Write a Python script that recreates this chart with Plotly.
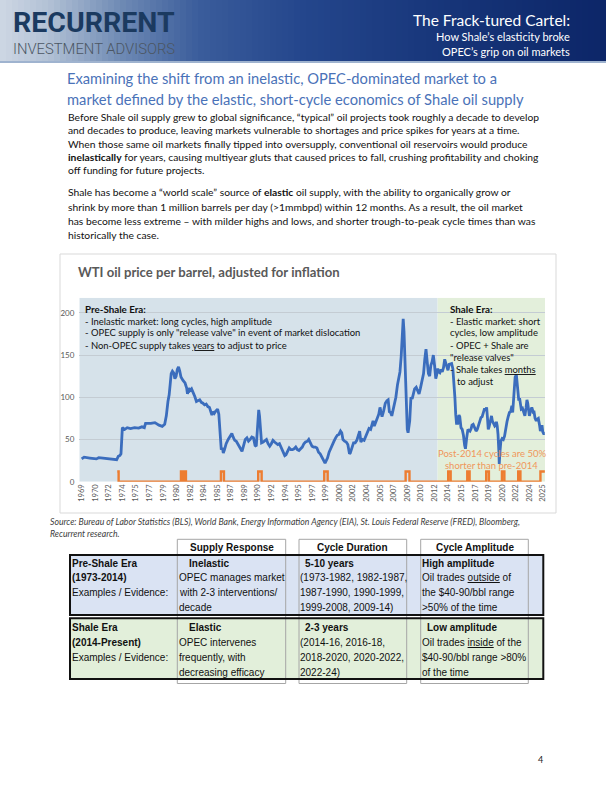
import plotly.graph_objects as go

W, H = 606, 789

# ---------------- DATA ----------------
price_years = [
    1969.0, 1969.3, 1970.0, 1970.8, 1971.1, 1971.5, 1972.5, 1973.3, 1973.5, 1973.7,
    1973.83, 1973.92, 1974.0, 1974.3, 1974.6, 1975.0, 1975.5, 1976.0, 1976.4, 1976.7,
    1976.85, 1977.5, 1978.0, 1978.5, 1978.9, 1979.2, 1979.4, 1979.6, 1979.75, 1979.9,
    1980.0, 1980.15, 1980.3, 1980.45, 1980.6, 1980.75, 1980.9, 1981.05, 1981.2, 1981.45,
    1981.7, 1981.9, 1982.0, 1982.15, 1982.3, 1982.5, 1982.7, 1982.9, 1983.1, 1983.3,
    1983.5, 1983.7, 1983.9, 1984.1, 1984.3, 1984.5, 1984.7, 1984.9, 1985.0, 1985.15,
    1985.3, 1985.5, 1985.7, 1985.85, 1985.95, 1986.05, 1986.15, 1986.3, 1986.4, 1986.55,
    1986.75, 1987.0, 1987.3, 1987.45, 1987.6, 1987.8, 1988.0, 1988.2, 1988.5, 1988.7,
    1988.9, 1989.1, 1989.3, 1989.5, 1989.7, 1989.9, 1990.1, 1990.3, 1990.45, 1990.6,
    1990.75, 1990.85, 1991.0, 1991.1, 1991.3, 1991.5, 1991.7, 1991.9, 1992.1, 1992.3,
    1992.5, 1992.7, 1992.9, 1993.1, 1993.3, 1993.5, 1993.7, 1993.95, 1994.1, 1994.3,
    1994.5, 1994.7, 1994.9, 1995.1, 1995.3, 1995.5, 1995.7, 1995.9, 1996.1, 1996.3,
    1996.5, 1996.75, 1996.9, 1997.1, 1997.3, 1997.5, 1997.7, 1997.9, 1998.1, 1998.3,
    1998.5, 1998.7, 1998.9, 1999.0, 1999.2, 1999.4, 1999.6, 1999.8, 2000.0, 2000.2,
    2000.4, 2000.6, 2000.8, 2000.95, 2001.1, 2001.3, 2001.5, 2001.7, 2001.9, 2002.0,
    2002.2, 2002.4, 2002.6, 2002.8, 2003.0, 2003.15, 2003.3, 2003.5, 2003.7, 2003.9,
    2004.1, 2004.3, 2004.5, 2004.7, 2004.8, 2004.95, 2005.1, 2005.3, 2005.5, 2005.65,
    2005.8, 2005.9, 2006.1, 2006.3, 2006.5, 2006.65, 2006.8, 2006.95, 2007.1, 2007.25,
    2007.45, 2007.6, 2007.8, 2007.95, 2008.1, 2008.25, 2008.4, 2008.5, 2008.6, 2008.7,
    2008.8, 2008.9, 2009.0, 2009.1, 2009.3, 2009.45, 2009.6, 2009.75, 2009.9, 2010.1,
    2010.3, 2010.45, 2010.6, 2010.8, 2011.0, 2011.15, 2011.3, 2011.45, 2011.6, 2011.75,
    2011.9, 2012.05, 2012.2, 2012.35, 2012.5, 2012.6, 2012.75, 2012.85, 2013.0, 2013.15,
    2013.3, 2013.45, 2013.6, 2013.75, 2013.9, 2014.0, 2014.15, 2014.3, 2014.45, 2014.6,
    2014.75, 2014.85, 2014.95, 2015.05, 2015.2, 2015.35, 2015.45, 2015.6, 2015.75, 2015.9,
    2016.05, 2016.15, 2016.3, 2016.45, 2016.55, 2016.7, 2016.85, 2016.95, 2017.1, 2017.3,
    2017.45, 2017.6, 2017.75, 2017.9, 2018.05, 2018.2, 2018.35, 2018.5, 2018.6, 2018.75,
    2018.85, 2018.95, 2019.05, 2019.2, 2019.35, 2019.45, 2019.6, 2019.75, 2019.85, 2019.95,
    2020.05, 2020.15, 2020.25, 2020.3, 2020.4, 2020.5, 2020.65, 2020.8, 2020.95, 2021.1,
    2021.25, 2021.4, 2021.55, 2021.7, 2021.85, 2021.95, 2022.05, 2022.15, 2022.25, 2022.4,
    2022.5, 2022.6, 2022.7, 2022.8, 2022.9, 2023.0, 2023.15, 2023.3, 2023.45, 2023.6,
    2023.7, 2023.8, 2023.9, 2024.0, 2024.15, 2024.3, 2024.45, 2024.55, 2024.7, 2024.85,
    2024.95, 2025.1, 2025.25, 2025.35, 2025.45, 2025.55, 2025.65, 2025.75, 2025.9,
]
price_values = [
    27, 29, 28, 27, 28.5, 28, 27, 26, 30, 31,
    33, 60, 64, 62, 64, 63, 64, 63.5, 65, 64,
    69, 69, 70, 67, 65.5, 68, 78, 95, 103, 118,
    128, 131, 129, 122, 125, 133, 136, 131, 124, 120,
    117, 111, 104, 111, 108, 110, 106, 101, 95, 96,
    97, 94, 93, 91, 92, 89, 88, 82, 79, 83,
    81, 84, 86, 80, 62, 43, 38, 40, 34, 38,
    45, 50, 54, 57, 53, 49, 48, 45, 40, 36,
    43, 50, 52, 48, 50, 53, 52, 43, 42, 62,
    85, 78, 58, 46, 47, 48, 50, 45, 42, 45,
    49, 47, 45, 44, 45, 41, 37, 31, 32, 36,
    40, 38, 38, 39, 41, 38, 37, 39, 41, 45,
    47, 48, 50, 46, 42, 41, 41, 40, 35, 33,
    29, 27, 22, 24, 28, 35, 40, 45, 48, 52,
    55, 56, 60, 58, 50, 48, 47, 44, 33, 34,
    40, 46, 46, 49, 55, 60, 47, 50, 49, 54,
    57, 63, 62, 68, 72, 66, 70, 76, 80, 88,
    83, 77, 84, 93, 96, 97, 83, 82, 78, 85,
    92, 100, 115, 125, 130, 148, 175, 193, 178, 146,
    112, 78, 62, 58, 72, 100, 98, 104, 110, 112,
    108, 104, 110, 118, 128, 145, 157, 142, 128, 125,
    138, 142, 150, 138, 122, 126, 134, 130, 129, 133,
    130, 135, 145, 140, 133, 132, 139, 140, 140, 134,
    118, 100, 80, 69, 69, 79, 77, 64, 62, 55,
    43, 39, 52, 62, 61, 60, 63, 67, 68, 64,
    60, 62, 66, 71, 76, 77, 83, 87, 84, 88,
    76, 62, 65, 72, 78, 72, 69, 66, 67, 71,
    66, 56, 36, 21, 37, 48, 51, 50, 54, 64,
    71, 77, 82, 83, 90, 82, 95, 105, 124, 127,
    118, 102, 96, 99, 90, 86, 87, 82, 78, 88,
    97, 93, 79, 78, 84, 88, 83, 84, 75, 72,
    74, 75, 67, 60, 63, 67, 59, 57, 57,
]

# OPEC intervention / cycle markers (step series)
signal_years = [
    1973.37, 1973.54, 1981.2, 1981.48, 1981.57, 1981.81, 1986.11, 1986.48,
    1990.69, 1991.11, 1998.8, 1999.22, 2008.8, 2009.27, 2014.03, 2014.33,
    2016.37, 2016.66, 2018.7, 2019.03, 2020.63, 2020.93, 2022.63, 2022.9,
    2025.36, 2025.9,
]
signal_values = [
    12, 0, 12, 0, 12, 0, 12, 0,
    12, 0, 12, 0, 12, 0, 12, 0,
    12, 0, 12, 0, 12, 0, 12, 0,
    12, 12,
]

tick_labels = ["1969", "1970", "1972", "1974", "1975", "1977", "1979", "1980", "1982",
               "1984", "1985", "1987", "1989", "1990", "1992", "1994", "1995", "1997",
               "1999", "2000", "2002", "2004", "2005", "2007", "2009", "2010", "2012",
               "2014", "2015", "2017", "2019", "2020", "2022", "2024", "2025"]
y_ticks = [0, 50, 100, 150, 200]
shale_era_start = 2012.73

# ---------------- HELPERS ----------------
def px(x):
    return x / W

def py(y):
    return 1 - y / H

annotations = []
shapes = []

def text(t, x, y, size, color="#000000", anchor="left", family="Lato", weight=None):
    f = dict(size=size, color=color, family=family)
    if weight is not None:
        f["weight"] = weight
    if anchor == "left":
        x -= 2.5
    elif anchor == "right":
        x += 1.5
    annotations.append(dict(text=t, x=px(x), y=py(y), xref="paper", yref="paper",
                            xanchor=anchor, yanchor="middle", showarrow=False,
                            font=f, borderpad=0, borderwidth=0))

def rect(x0, y0, x1, y1, fill=None, line=None, lw=1, layer="above"):
    shapes.append(dict(type="rect", xref="paper", yref="paper",
                       x0=px(x0), x1=px(x1), y0=py(y1), y1=py(y0),
                       fillcolor=fill if fill else "rgba(0,0,0,0)",
                       line=dict(color=line if line else "rgba(0,0,0,0)", width=lw if line else 0),
                       layer=layer))

# ---------------- HEADER BANNER (gradient strips) ----------------
stops = [(0.0, (206, 215, 228)), (0.08, (178, 193, 213)), (0.2, (110, 138, 180)),
         (0.33, (58, 92, 155)), (0.5, (36, 70, 140)), (0.75, (22, 52, 120)), (1.0, (12, 38, 104))]

def grad(t):
    for i in range(len(stops) - 1):
        a, ca = stops[i]
        b, cb = stops[i + 1]
        if a <= t <= b:
            f = (t - a) / (b - a)
            return "rgb(%d,%d,%d)" % tuple(round(ca[k] + (cb[k] - ca[k]) * f) for k in range(3))
    return "rgb(12,38,104)"

n_strips = 101
sw = W / n_strips
for i in range(n_strips):
    rect(i * sw, 0, (i + 1) * sw + 0.6, 61, fill=grad((i + 0.5) / n_strips), layer="below")
rect(0, 61, W, 63, fill="#9fb3cf", layer="below")

text("<b>RECURRENT</b>", 15, 22.8, 28.5, "#1b3a60", family="Roboto")
text("INVESTMENT ADVISORS", 15.5, 48.8, 14.8, "#4b5663", family="Roboto", weight=300)
text("The Frack-tured Cartel:", 568, 20, 15.5, "#ffffff", anchor="right")
text("How Shale\u2019s elasticity broke", 568, 37, 11, "#ffffff", anchor="right")
text("OPEC\u2019s grip on oil markets", 568, 51, 11, "#ffffff", anchor="right")

# ---------------- INTRO TEXT ----------------
text("Examining the shift from an inelastic, OPEC-dominated market to a", 69.5, 78, 14.7, "#4a72b8")
text("market defined by the elastic, short-cycle economics of Shale oil supply", 69.5, 99.5, 14.7, "#4a72b8")

body = [
    ("Before Shale oil supply grew to global significance, \u201ctypical\u201d oil projects took roughly a decade to develop", 116.7),
    ("and decades to produce, leaving markets vulnerable to shortages and price spikes for years at a time.", 130.2),
    ("When those same oil markets finally tipped into oversupply, conventional oil reservoirs would produce", 143.5),
    ("<b>inelastically</b> for years, causing multiyear gluts that caused prices to fall, crushing profitability and choking", 156.8),
    ("off funding for future projects.", 170.2),
    ("Shale has become a \u201cworld scale\u201d source of <b>elastic</b> oil supply, with the ability to organically grow or", 191.8),
    ("shrink by more than 1 million barrels per day (&gt;1mmbpd) within 12 months. As a result, the oil market", 206.5),
    ("has become less extreme \u2013 with milder highs and lows, and shorter trough-to-peak cycle times than was", 221),
    ("historically the case.", 235.2),
]
for t, y in body:
    text(t, 70, y, 10.3, "#111111")

# ---------------- CHART BOX ----------------
rect(60, 254, 556, 513, line="#d9d9d9", lw=1, layer="below")
text("<b>WTI oil price per barrel, adjusted for inflation</b>", 80.7, 271.5, 13.1, "#595959")

# Era annotations
text("<b>Pre-Shale Era:</b>", 87.5, 309, 9.8, "#111111")
text("- Inelastic market: long cycles, high amplitude", 87.5, 321, 9.45, "#111111")
text("- OPEC supply is only \"release valve\" in event of market dislocation", 87.5, 333, 9.45, "#111111")
text("- Non-OPEC supply takes <u>years</u> to adjust to price", 87.5, 345, 9.45, "#111111")

text("<b>Shale Era:</b>", 452.3, 309, 9.8, "#111111")
text("- Elastic market: short", 452.3, 321, 9.45, "#111111")
text("cycles, low amplitude", 452.3, 333, 9.45, "#111111")
text("- OPEC + Shale are", 452.3, 345.5, 9.45, "#111111")
text("\"release valves\"", 452.3, 357.5, 9.45, "#111111")
text("- Shale takes <u>months</u>", 452.3, 369.5, 9.45, "#111111")
text("to adjust", 459.3, 381.5, 9.45, "#111111")

text("Post-2014 cycles are 50%", 491.5, 454, 9.5, "#f0965a", anchor="center")
text("shorter than pre-2014", 491.5, 465.7, 9.5, "#f0965a", anchor="center")

text("<i>Source: Bureau of Labor Statistics (BLS), World Bank, Energy Information Agency (EIA), St. Louis Federal Reserve (FRED), Bloomberg,</i>",
     52, 521.8, 8.7, "#404040")
text("<i>Recurrent research.</i>", 52, 533.5, 8.7, "#404040")

# ---------------- TABLE ----------------
tf = "Liberation Sans"
ts = 10
rect(70, 555, 543.3, 615, fill="#dae3f3", layer="above")
rect(70, 618.3, 543.3, 679, fill="#e2efda", layer="above")
col_edges = [(177.3, 285.7), (299, 406.7), (420.7, 528.3)]
for x0, x1 in col_edges:
    rect(x0, 539.3, x1, 683.5, line="#a6a6a6", lw=1, layer="above")
rect(70, 555, 543.3, 615, line="#111111", lw=2, layer="above")
rect(70, 618.3, 543.3, 679, line="#111111", lw=2, layer="above")

headers = ["Supply Response", "Cycle Duration", "Cycle Amplitude"]
for (x0, x1), h in zip(col_edges, headers):
    text("<b>%s</b>" % h, (x0 + x1) / 2, 547.7, ts, "#111111", anchor="center", family=tf)

row1_y = [563.3, 577.9, 592.7, 607.3]
row2_y = [627.7, 642.3, 657.3, 672.3]
row1 = [
    (74.5, ["<b>Pre-Shale Era</b>", "<b>(1973-2014)</b>", "Examples / Evidence:"]),
    (181.5, ["   <b>Inelastic</b>", "OPEC manages market", "with 2-3 interventions/", "decade"]),
    (302.5, ["  <b>5-10 years</b>", "(1973-1982, 1982-1987,", "1987-1990, 1990-1999,", "1999-2008, 2009-14)"]),
    (424.5, ["<b>High amplitude</b>", "Oil trades <u>outside</u> of", "the $40-90/bbl range", "&gt;50% of the time"]),
]
row2 = [
    (74.5, ["<b>Shale Era</b>", "<b>(2014-Present)</b>", "Examples / Evidence:"]),
    (181.5, ["   <b>Elastic</b>", "OPEC intervenes", "frequently, with", "decreasing efficacy"]),
    (302.5, ["  <b>2-3 years</b>", "(2014-16, 2016-18,", "2018-2020, 2020-2022,", "2022-24)"]),
    (424.5, ["  <b>Low amplitude</b>", "Oil trades <u>inside</u> of the", "$40-90/bbl range &gt;80%", "of the time"]),
]
for rows, ys in ((row1, row1_y), (row2, row2_y)):
    for x, lines in rows:
        for t, y in zip(lines, ys):
            text(t.replace("   ", "\u2002\u2002").replace("  ", "\u2002"), x, y, ts, "#111111", family=tf)

text("4", 540, 759.5, 9, "#222222", anchor="center", family="Lato")

# ---------------- CHART ----------------
x_range = [1968.71, 2025.92]
y_range = [0, 218]
shapes.append(dict(type="rect", xref="x", yref="y", x0=x_range[0], x1=shale_era_start,
                   y0=y_range[0], y1=y_range[1], fillcolor="#d6e2ea", line=dict(width=0), layer="below"))
shapes.append(dict(type="rect", xref="x", yref="y", x0=shale_era_start, x1=x_range[1],
                   y0=y_range[0], y1=y_range[1], fillcolor="#e3efdb", line=dict(width=0), layer="below"))

fig = go.Figure()
fig.add_trace(go.Scatter(x=price_years, y=price_values, mode="lines",
                         line=dict(color="#3b6dbd", width=2.8), hoverinfo="skip"))
fig.add_trace(go.Scatter(x=signal_years, y=signal_values, mode="lines",
                         line=dict(color="#ed7d31", width=2.4, shape="hv"), hoverinfo="skip"))

tick_pos = [1969 + 20 * i / 12 for i in range(len(tick_labels))]

fig.update_layout(
    width=W, height=H, margin=dict(l=0, r=0, t=0, b=0),
    paper_bgcolor="#ffffff", plot_bgcolor="rgba(0,0,0,0)",
    showlegend=False,
    annotations=annotations, shapes=shapes,
    xaxis=dict(domain=[px(79.3), px(545)], range=x_range, tickmode="array",
               tickvals=tick_pos, ticktext=tick_labels, tickangle=-90,
               tickfont=dict(size=7.6, color="#595959", family="Lato"),
               showgrid=False, zeroline=False, showline=False, ticks="", ticklen=0,
               automargin=False),
    yaxis=dict(domain=[py(481.7), py(297.7)], range=y_range, tickmode="array",
               tickvals=y_ticks, tickfont=dict(size=8, color="#595959", family="Lato"),
               showgrid=True, gridcolor="#c4ccd3", gridwidth=1, zeroline=False,
               showline=False, ticks="", ticklabelstandoff=4, automargin=False),
)

fig.write_html("out.html",
               config={"displayModeBar": False},
               post_script="document.body.style.margin='0';document.body.style.padding='0';"
                           "document.documentElement.style.overflow='hidden';")
